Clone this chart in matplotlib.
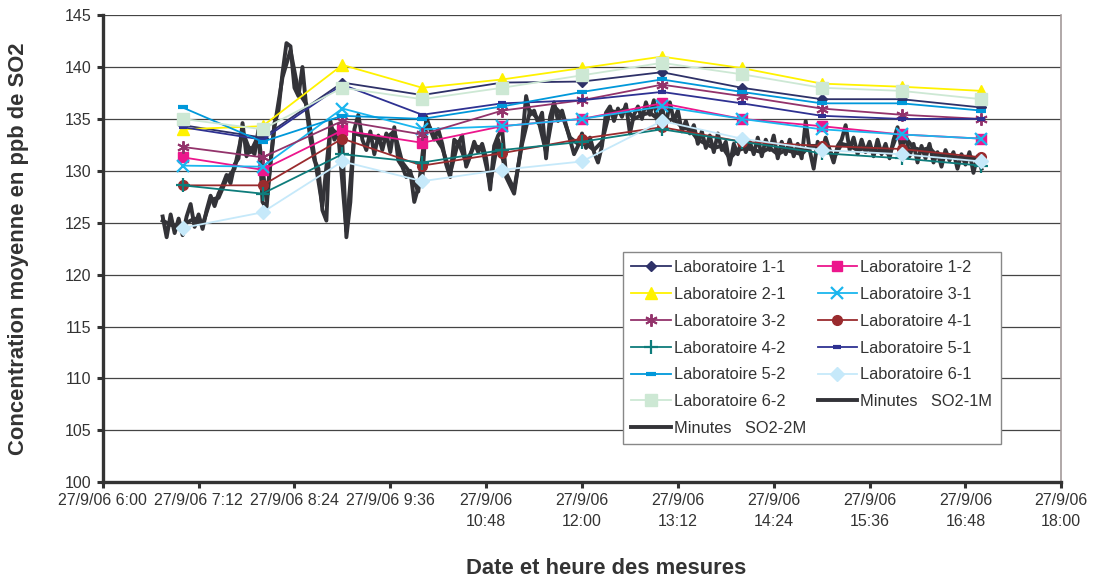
import matplotlib

matplotlib.use("Agg")
import matplotlib.pyplot as plt  # noqa: E402
import pandas as pd  # noqa: E402

plt.rcParams["font.family"] = ["Liberation Sans", "DejaVu Sans"]

# hourly laboratory means, 7:00 -> 17:00
lab_hours = pd.date_range("2006-09-27 07:00", "2006-09-27 17:00", freq="60min")
lab_11 = [134.4, 133.2, 138.5, 137.3, 138.5, 138.6, 139.5, 138.0, 136.9, 136.9, 136.1]
lab_12 = [131.3, 130.1, 133.9, 132.7, 134.3, 135.0, 136.5, 135.0, 134.3, 133.5, 133.1]
lab_21 = [134.0, 134.3, 140.2, 138.0, 138.8, 139.9, 141.0, 139.9, 138.4, 138.1, 137.7]
lab_31 = [130.5, 130.4, 136.0, 134.0, 134.3, 135.0, 136.2, 135.0, 134.0, 133.5, 133.1]
lab_32 = [132.3, 131.3, 134.8, 133.5, 135.8, 136.8, 138.3, 137.2, 136.0, 135.4, 135.0]
lab_41 = [128.6, 128.6, 133.1, 130.5, 131.7, 133.1, 134.2, 132.8, 132.4, 132.1, 131.3]
lab_42 = [128.6, 127.8, 131.6, 130.8, 132.0, 132.8, 134.0, 132.8, 131.7, 131.2, 130.5]
lab_51 = [134.2, 133.0, 138.3, 135.4, 136.5, 136.8, 137.6, 136.5, 135.3, 135.0, 135.0]
lab_52 = [136.1, 132.8, 135.3, 135.0, 136.2, 137.6, 138.8, 137.6, 136.5, 136.5, 135.8]
lab_61 = [124.5, 126.0, 130.9, 129.0, 130.1, 130.9, 134.8, 133.1, 132.0, 131.6, 130.9]
lab_62 = [135.0, 134.0, 138.0, 136.9, 138.0, 139.2, 140.4, 139.3, 138.0, 137.7, 136.9]

# analyser SO2-1M, one reading every 3 minutes from 6:45
so2_1m = [
    125.6, 123.6, 125.8, 124.0, 125.4, 123.8, 125.6, 126.8, 124.6, 125.8,
    124.4, 126.2, 127.6, 126.6, 127.8, 128.6, 129.6, 128.8, 130.6, 131.2,
    134.6, 131.4, 132.2, 131.6, 134.0, 127.0, 126.4, 130.8, 134.6, 135.8,
    139.4, 142.3, 142.0, 138.0, 137.2, 140.0, 136.0, 133.0, 131.0, 130.2,
    126.2, 125.2, 134.8, 133.0, 133.8, 132.6, 123.6, 127.0, 134.0, 135.4,
    133.0, 132.0, 133.8, 131.6, 133.4, 132.0, 133.6, 131.8, 134.2, 131.0,
    130.4, 129.4, 130.0, 127.0, 128.4, 129.0, 135.2, 134.0, 133.0, 134.0,
    132.6, 130.6, 129.4, 133.0, 132.6, 133.4, 130.4, 131.4, 132.8, 131.8,
    132.6, 131.2, 128.2, 132.4, 133.4, 134.0, 129.4, 128.6, 127.8, 130.4,
    133.0, 137.2, 135.4, 135.8, 134.6, 135.6, 131.2, 135.2, 136.6, 134.8,
    135.8, 134.4, 133.0, 131.6, 132.4, 133.6, 132.2, 133.2, 131.8, 130.8,
    132.4, 135.6, 136.2, 134.8, 136.0, 135.2, 136.4, 133.6, 135.4, 136.2,
    135.0, 136.6, 135.4, 136.8, 134.6, 136.2, 134.4, 136.6, 134.8, 135.8,
    133.8, 134.8, 133.6, 134.4, 132.6, 133.8, 132.2, 133.4, 131.8, 133.6,
    132.0, 132.8, 130.6, 132.6, 131.6, 133.0, 131.8, 132.8, 131.6, 133.2,
    131.4, 133.0, 132.0, 133.4, 131.2, 132.8, 131.6, 133.0, 131.4, 132.6,
    131.2, 134.8, 132.0, 130.2, 132.8, 131.8, 133.2, 132.0, 130.8, 132.4,
    133.0, 134.4, 132.0, 133.2, 131.6, 133.0, 131.8, 132.8, 131.4, 133.0,
    131.6, 132.6, 131.2, 133.0, 134.2, 132.0, 133.6, 131.4, 132.6, 130.8,
    132.4, 131.2, 132.6, 130.8, 131.8, 130.4, 132.0, 131.0, 131.8, 130.2,
    131.6, 130.6, 131.8, 129.8, 131.4, 130.2,
]

# analyser SO2-2M, one reading every 6 minutes from 6:45
so2_2m = [
    125.2, 124.8, 124.6, 125.0, 125.4, 124.8, 127.2, 127.4, 129.2, 130.2,
    133.8, 131.8, 133.4, 127.2, 134.2, 139.0, 141.6, 137.6, 136.4, 131.4,
    126.6, 134.2, 133.4, 124.2, 133.6, 133.4, 133.4, 133.0, 133.2, 133.8,
    130.8, 129.8, 128.0, 134.8, 133.4, 132.2, 129.8, 132.8, 130.8, 132.4,
    132.2, 128.8, 133.0, 129.8, 128.2, 132.6, 135.8, 135.0, 131.8, 136.2,
    135.4, 133.2, 132.6, 132.6, 132.0, 132.8, 135.8, 135.6, 136.0, 135.0,
    135.4, 135.6, 135.0, 134.8, 135.0, 134.2, 134.0, 133.0, 132.6, 132.2,
    132.4, 131.2, 132.0, 132.2, 132.0, 131.8, 132.2, 131.6, 132.0, 131.8,
    131.6, 132.4, 132.4, 132.8, 131.2, 132.6, 132.4, 132.0, 132.2, 131.8,
    132.0, 131.6, 133.6, 133.2, 132.2, 132.0, 132.2, 131.4, 131.6, 131.4,
    131.2, 131.4, 131.0,
]

tick_times = pd.date_range("2006-09-27 06:00", periods=11, freq="72min")
tick_labels = [
    "27/9/06 6:00", "27/9/06 7:12", "27/9/06 8:24", "27/9/06 9:36",
    "27/9/06\n10:48", "27/9/06\n12:00", "27/9/06\n13:12", "27/9/06\n14:24",
    "27/9/06\n15:36", "27/9/06\n16:48", "27/9/06\n18:00",
]

t_1m = pd.date_range("2006-09-27 06:45", periods=len(so2_1m), freq="3min")
t_2m = pd.date_range("2006-09-27 06:45", periods=len(so2_2m), freq="6min")

fig = plt.figure(figsize=(10.93, 5.81), dpi=100)
ax = fig.add_axes([0.094, 0.170, 0.877, 0.804])

trace = "#333338"
h_2m, = ax.plot(t_2m, so2_2m, color=trace, lw=2.8, label="Minutes   SO2-2M", zorder=3)
h_1m, = ax.plot(t_1m, so2_1m, color=trace, lw=2.8, label="Minutes   SO2-1M", zorder=3)

labs = [
    ("Laboratoire 1-1", lab_11, "#2E3168", dict(marker="D", ms=5)),
    ("Laboratoire 1-2", lab_12, "#EC168C", dict(marker="s", ms=7)),
    ("Laboratoire 2-1", lab_21, "#FFF200", dict(marker="^", ms=9)),
    ("Laboratoire 3-1", lab_31, "#1AB6EE", dict(marker="x", ms=8, mew=1.6)),
    ("Laboratoire 3-2", lab_32, "#93336B", dict(marker=(6, 2, 0), ms=9, mew=1.4)),
    ("Laboratoire 4-1", lab_41, "#9A2B2E", dict(marker="o", ms=7)),
    ("Laboratoire 4-2", lab_42, "#0E7C7B", dict(marker="+", ms=10, mew=1.6)),
    ("Laboratoire 5-1", lab_51, "#2E3192", dict(marker="_", ms=6, mew=3)),
    ("Laboratoire 5-2", lab_52, "#0098DA", dict(marker="_", ms=7, mew=3)),
    ("Laboratoire 6-1", lab_61, "#C6E9FA", dict(marker="D", ms=7)),
    ("Laboratoire 6-2", lab_62, "#CDE8D4", dict(marker="s", ms=8)),
]
handles = {}
for name, vals, col, mk in labs:
    h, = ax.plot(lab_hours, vals, color=col, lw=1.3, label=name, zorder=4, **mk)
    handles[name] = h

ax.set_ylim(100, 145)
ax.set_yticks(range(100, 146, 5))
ax.set_xlim(tick_times[0], tick_times[-1])
ax.set_xticks(tick_times)
ax.set_xticklabels(tick_labels, linespacing=1.5)

ax.yaxis.grid(True, color="#444444", lw=0.9)
ax.set_axisbelow(True)
for side in ("left", "bottom"):
    ax.spines[side].set_color("#333333")
    ax.spines[side].set_linewidth(2.4)
ax.spines["top"].set_visible(False)
ax.spines["right"].set_color("#a39a9a")
ax.spines["right"].set_linewidth(1.2)
ax.tick_params(axis="both", direction="out", length=4, width=2.2,
               color="#333333", labelsize=11.5, labelcolor="#333333", pad=4)

order = [
    handles["Laboratoire 1-1"], handles["Laboratoire 2-1"], handles["Laboratoire 3-2"],
    handles["Laboratoire 4-2"], handles["Laboratoire 5-2"], handles["Laboratoire 6-2"], h_2m,
    handles["Laboratoire 1-2"], handles["Laboratoire 3-1"], handles["Laboratoire 4-1"],
    handles["Laboratoire 5-1"], handles["Laboratoire 6-1"], h_1m,
]
leg = ax.legend(handles=order, ncol=2, loc="upper left", bbox_to_anchor=(0.543, 0.493),
                fontsize=11.8, frameon=True, fancybox=False, framealpha=1,
                edgecolor="#888888", borderpad=0.5, labelspacing=0.72,
                handlelength=2.4, handletextpad=0.2, columnspacing=0.7,
                borderaxespad=0)
leg.get_frame().set_linewidth(1.0)
for txt in leg.get_texts():
    txt.set_color("#333333")

fig.text(0.0165, 0.571, "Concentration moyenne en ppb de SO2", rotation=90,
         ha="center", va="center", fontsize=15.8, fontweight="bold", color="#333333")
fig.text(0.555, 0.022, "Date et heure des mesures", ha="center", va="center",
         fontsize=15.8, fontweight="bold", color="#333333")

fig.savefig("out.png", dpi=100)
